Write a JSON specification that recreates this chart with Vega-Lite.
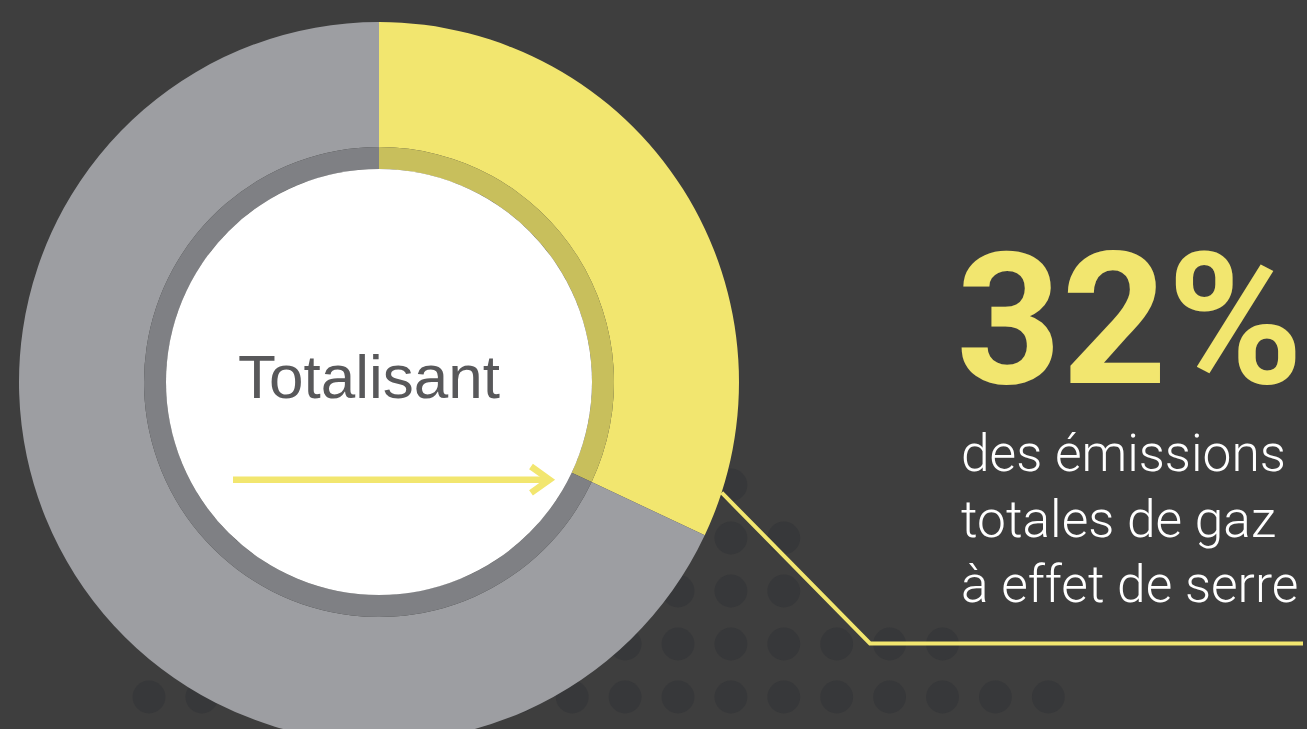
{
  "$schema": "https://vega.github.io/schema/vega-lite/v6.json",
  "width": 1307,
  "height": 729,
  "autosize": {"type": "none"},
  "padding": 0,
  "background": "#3e3e3e",
  "config": {"view": {"stroke": null}},
  "datasets": {
    "dots": [
      {"x": 730.9, "y": 485},
      {"x": 730.9, "y": 538}, {"x": 783.8, "y": 538},
      {"x": 678, "y": 591}, {"x": 730.9, "y": 591}, {"x": 783.8, "y": 591},
      {"x": 625.1, "y": 644}, {"x": 678, "y": 644}, {"x": 730.9, "y": 644}, {"x": 783.8, "y": 644}, {"x": 836.7, "y": 644}, {"x": 889.6, "y": 644}, {"x": 942.5, "y": 644},
      {"x": 149, "y": 697}, {"x": 201.9, "y": 697}, {"x": 254.8, "y": 697}, {"x": 307.7, "y": 697}, {"x": 360.6, "y": 697}, {"x": 413.5, "y": 697}, {"x": 466.4, "y": 697}, {"x": 519.3, "y": 697}, {"x": 572.2, "y": 697}, {"x": 625.1, "y": 697}, {"x": 678, "y": 697}, {"x": 730.9, "y": 697}, {"x": 783.8, "y": 697}, {"x": 836.7, "y": 697}, {"x": 889.6, "y": 697}, {"x": 942.5, "y": 697}, {"x": 995.4, "y": 697}, {"x": 1048.3, "y": 697}
    ],
    "share": [
      {"part": "transport", "value": 32, "o": 1},
      {"part": "autres", "value": 68, "o": 2}
    ],
    "leader": [
      {"x": 721.7, "y": 492.7, "o": 1},
      {"x": 870, "y": 643.5, "o": 2},
      {"x": 1303, "y": 643.5, "o": 3}
    ],
    "arrow": [
      {"x": 233, "y": 479.7, "seg": "shaft", "o": 1},
      {"x": 548, "y": 479.7, "seg": "shaft", "o": 2},
      {"x": 531, "y": 466.5, "seg": "head", "o": 1},
      {"x": 549.5, "y": 479.7, "seg": "head", "o": 2},
      {"x": 531, "y": 492.9, "seg": "head", "o": 3}
    ],
    "label": [{"text": "Totalisant", "x": 369, "y": 398}],
    "big": [{"text": "32%", "x": 956, "y": 383}],
    "lines": [
      {"text": "des émissions", "x": 961, "y": 470.7},
      {"text": "totales de gaz", "x": 961, "y": 536.7},
      {"text": "à effet de serre", "x": 961, "y": 601.7}
    ]
  },
  "layer": [
    {
      "data": {"name": "dots"},
      "mark": {"type": "circle", "size": 1075, "color": "#37383a", "opacity": 1},
      "encoding": {
        "x": {"field": "x", "type": "quantitative", "scale": {"domain": [0, 1307], "nice": false, "zero": false}, "axis": null},
        "y": {"field": "y", "type": "quantitative", "scale": {"domain": [0, 729], "nice": false, "zero": false, "reverse": true}, "axis": null}
      }
    },
    {
      "data": {"name": "share"},
      "mark": {"type": "arc", "radius": 360, "radius2": 235},
      "encoding": {
        "x": {"datum": 379, "type": "quantitative"},
        "y": {"datum": 382, "type": "quantitative"},
        "theta": {"field": "value", "type": "quantitative", "stack": true},
        "order": {"field": "o", "type": "quantitative"},
        "color": {"condition": {"test": "datum.part === 'transport'", "value": "#f2e66f"}, "value": "#9d9ea2"}
      }
    },
    {
      "data": {"name": "share"},
      "mark": {"type": "arc", "radius": 235, "radius2": 213},
      "encoding": {
        "x": {"datum": 379, "type": "quantitative"},
        "y": {"datum": 382, "type": "quantitative"},
        "theta": {"field": "value", "type": "quantitative", "stack": true},
        "order": {"field": "o", "type": "quantitative"},
        "color": {"condition": {"test": "datum.part === 'transport'", "value": "#c8bf5c"}, "value": "#7f8084"}
      }
    },
    {
      "data": {"values": [{"part": "centre"}]},
      "mark": {"type": "arc", "radius": 213, "radius2": 0, "theta": 0, "theta2": 6.2832, "color": "#ffffff"},
      "encoding": {
        "x": {"datum": 379, "type": "quantitative"},
        "y": {"datum": 382, "type": "quantitative"}
      }
    },
    {
      "data": {"name": "leader"},
      "mark": {"type": "line", "color": "#f2e66f", "strokeWidth": 4, "strokeJoin": "miter"},
      "encoding": {
        "x": {"field": "x", "type": "quantitative"},
        "y": {"field": "y", "type": "quantitative"},
        "order": {"field": "o", "type": "quantitative"}
      }
    },
    {
      "data": {"name": "arrow"},
      "mark": {"type": "line", "color": "#f2e66f", "strokeWidth": 6.5, "strokeJoin": "miter", "strokeCap": "butt"},
      "encoding": {
        "x": {"field": "x", "type": "quantitative"},
        "y": {"field": "y", "type": "quantitative"},
        "detail": {"field": "seg", "type": "nominal"},
        "order": {"field": "o", "type": "quantitative"}
      }
    },
    {
      "data": {"name": "label"},
      "mark": {"type": "text", "font": "Liberation Sans", "fontSize": 62, "color": "#58585a", "align": "center", "baseline": "alphabetic"},
      "encoding": {
        "x": {"field": "x", "type": "quantitative"},
        "y": {"field": "y", "type": "quantitative"},
        "text": {"field": "text"}
      }
    },
    {
      "data": {"name": "big"},
      "mark": {"type": "text", "font": "Roboto", "fontWeight": "bold", "fontSize": 184, "color": "#f2e66f", "align": "left", "baseline": "alphabetic"},
      "encoding": {
        "x": {"field": "x", "type": "quantitative"},
        "y": {"field": "y", "type": "quantitative"},
        "text": {"field": "text"}
      }
    },
    {
      "data": {"name": "lines"},
      "mark": {"type": "text", "font": "Roboto", "fontWeight": 300, "fontSize": 51.5, "color": "#ffffff", "align": "left", "baseline": "alphabetic"},
      "encoding": {
        "x": {"field": "x", "type": "quantitative"},
        "y": {"field": "y", "type": "quantitative"},
        "text": {"field": "text"}
      }
    }
  ]
}
